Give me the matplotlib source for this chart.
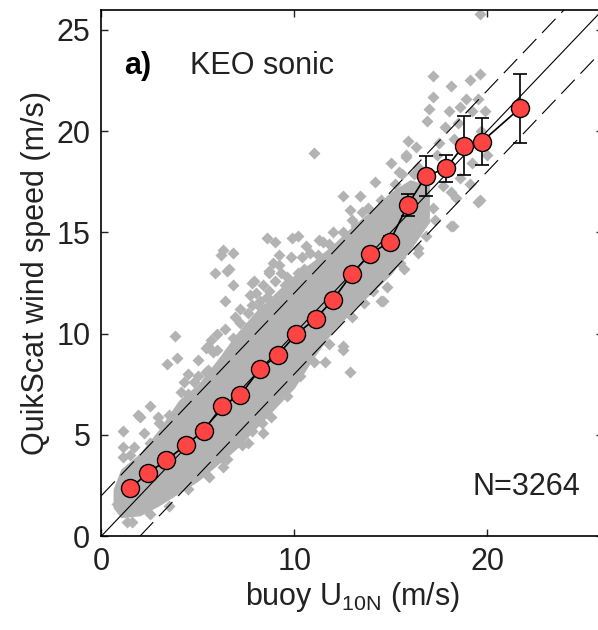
import matplotlib
matplotlib.use("Agg")
import matplotlib.pyplot as plt

plt.rcParams['font.family'] = ['Liberation Sans', 'DejaVu Sans']
plt.rcParams['mathtext.fontset'] = 'custom'
plt.rcParams['mathtext.rm'] = 'Liberation Sans'
plt.rcParams['lines.scale_dashes'] = False

# binned means (red circles) with error bars
bin_x = [1.5, 2.42, 3.35, 4.4, 5.3, 6.25, 7.2, 8.2, 9.13, 10.1, 11.1, 12.0,
         12.99, 13.94, 14.94, 15.87, 16.82, 17.86, 18.77, 19.73, 21.7]
bin_y = [2.37, 3.11, 3.74, 4.51, 5.21, 6.41, 6.96, 8.23, 8.93, 9.97, 10.73, 11.66,
         12.95, 13.94, 14.52, 16.33, 17.78, 18.15, 19.28, 19.48, 21.13]
bin_err = [0.08, 0.06, 0.06, 0.06, 0.07, 0.08, 0.08, 0.1, 0.1, 0.1, 0.12, 0.15,
           0.18, 0.2, 0.3, 0.55, 0.98, 0.66, 1.44, 1.17, 1.7]

# dense core of the scatter cloud (envelope)
core_x = [0.6, 1, 2, 3, 4, 5, 6, 7, 8, 9, 10, 11, 12, 13, 14, 15, 16, 17]
core_lo = [1.4, 0.9, 1.0, 1.5, 2.1, 2.7, 3.5, 4.3, 5.3, 6.3, 7.3, 8.8, 10.1,
           11.1, 12.0, 12.9, 14.1, 15.5]
core_hi = [2.3, 3.3, 4.1, 5.3, 6.7, 7.5, 8.7, 10.0, 11.1, 12.0, 12.9, 13.6, 14.4,
           15.3, 16.1, 17.0, 17.6, 17.3]

# scattered points outside / along the edge of the core
pts_x = [1.1, 1.1, 1.1, 1.7, 2.0, 2.2, 2.5, 1.9, 2.95, 3.4, 3.8, 3.9, 4.1, 5.0,
         5.3, 5.0, 5.4, 5.8, 5.5, 5.4, 6.4,
         5.9, 6.5, 6.8, 6.4, 7.8, 7.7, 8.7, 8.7, 8.2, 7.8,
         6.2, 6.8, 6.6, 6.3, 8.6, 9.0, 9.9, 10.6, 10.2, 9.2, 9.2, 9.8, 9.6, 10.2,
         10.0, 9.4, 7.9, 8.7,
         11.0, 12.5, 13.4, 12.9, 14.2, 15.0, 15.8, 15.9, 15.8, 16.9, 17.0, 17.2,
         17.2, 18.1, 18.0, 19.1, 19.6, 19.5, 19.6, 18.9, 19.2, 19.7, 18.5, 17.5,
         16.4, 16.7, 17.7, 18.6, 18.1, 17.2, 19.1, 19.5, 19.6, 18.4, 18.2, 18.1,
         16.5, 16.0, 11.5, 12.0, 13.0, 13.5,
         6.3, 6.3, 7.8, 8.3, 8.4, 11.6, 12.5, 12.5, 12.9, 12.2, 14.1, 14.5, 14.6,
         15.5, 15.5, 16.4, 16.4, 16.7, 0.8, 1.3,
         1.5, 2.5, 3.0, 3.5, 4.5, 4.8, 5.5, 6.0, 6.8, 7.2, 7.6, 8.2, 8.6, 9.5,
         10.5, 11.2, 11.8, 12.5, 13.2, 13.8, 14.5, 15.2, 15.6, 16.2,
         1.6, 2.5, 3.5, 4.5, 5.6, 6.5, 7.3, 7.6, 8.8, 9.6, 10.3, 11.0, 11.8, 13.0,
         13.6, 14.8, 15.7, 16.8, 17.3,
         17.4, 18.3, 19.2, 20.0, 19.9, 18.6, 17.8, 16.3, 15.4,
         8.0, 8.4, 9.0, 9.3, 8.9, 10.4, 10.8, 11.3, 7.2, 6.9, 6.0, 5.7, 4.5, 4.3]
pts_y = [5.2, 4.4, 3.9, 4.4, 5.9, 5.1, 6.4, 6.0, 5.9, 8.5, 9.9, 8.8, 7.1, 7.9,
         7.1, 8.7, 9.3, 9.1, 9.4, 8.1, 10.2,
         13.0, 13.1, 12.4, 11.6, 12.5, 11.9, 13.0, 12.1, 11.6, 11.4,
         13.9, 14.0, 13.2, 14.1, 14.7, 14.5, 14.7, 14.3, 14.8, 13.9, 13.4, 13.8,
         12.8, 13.0, 12.4, 11.9, 12.6, 13.1,
         18.9, 16.8, 16.8, 16.1, 17.5, 18.4, 18.7, 19.5, 18.8, 20.5, 21.1, 21.7,
         22.7, 22.2, 21.0, 22.5, 22.8, 21.6, 25.8, 21.6, 21.0, 20.0, 20.4, 19.4,
         18.2, 17.3, 17.3, 17.7, 17.0, 16.2, 17.4, 16.5, 16.6, 16.7, 15.3, 15.3,
         15.3, 14.8, 14.5, 15.0, 15.6, 16.0,
         3.8, 3.4, 5.2, 5.6, 5.1, 8.6, 9.2, 9.4, 8.1, 10.6, 12.1, 11.6, 11.6,
         13.5, 13.8, 14.0, 14.2, 15.5, 1.6, 0.7,
         4.0, 4.6, 5.6, 6.0, 7.0, 7.6, 8.2, 9.2, 9.8, 10.5, 11.0, 11.3, 11.8, 12.4,
         13.2, 13.9, 14.4, 15.0, 15.3, 16.2, 16.6, 17.4, 17.9, 17.9,
         0.7, 1.1, 1.5, 2.3, 2.9, 3.8, 4.5, 4.6, 5.9, 6.9, 7.9, 8.6, 9.5, 10.8,
         11.5, 12.3, 13.2, 14.8, 15.6,
         18.8, 19.6, 18.4, 18.8, 21.0, 21.2, 20.2, 19.2, 18.0,
         12.0, 12.4, 12.6, 13.0, 13.5, 13.8, 14.0, 14.6, 11.2, 10.8, 10.0, 9.7,
         8.0, 7.6]

grey = '#b3b3b3'

fig = plt.figure(figsize=(5.98, 6.30), dpi=100)
ax = fig.add_axes([0.1697, 0.1492, 0.8386, 0.8357])

ax.fill_between(core_x, core_lo, core_hi, color=grey, lw=0, zorder=1)
ax.plot(pts_x, pts_y, 'D', color=grey, ms=6, mec='none', zorder=1)

ax.plot([0, 26], [0, 26], color='k', lw=0.8, zorder=2)
for off in (-2, 2):
    ax.plot([0, 26], [off, 26 + off], color='k', lw=0.8, dashes=(14, 6), zorder=2)

ax.errorbar(bin_x, bin_y, yerr=bin_err, fmt='none', ecolor='k', elinewidth=1.2,
            capsize=5, capthick=1.2, zorder=3)
ax.plot(bin_x, bin_y, '-', color='k', lw=1.2, zorder=3)
ax.plot(bin_x, bin_y, 'o', ms=13, mfc='#ff4444', mec='k', mew=1, zorder=4)

ax.set_xlim(0, 26)
ax.set_ylim(0, 26)
ax.set_xticks([0, 10, 20])
ax.set_yticks([0, 5, 10, 15, 20, 25])
ax.tick_params(direction='in', length=5, width=1, top=True, right=True,
               labelsize=22, pad=8, colors='#222222')
for s in ax.spines.values():
    s.set_linewidth(1.2)

ax.set_xlabel('buoy U$_{\\mathrm{10N}}$ (m/s)', fontsize=22, labelpad=2,
              color='#222222')
ax.set_ylabel('QuikScat wind speed (m/s)', fontsize=22, labelpad=4,
              color='#222222')

ax.text(1.15, 23.2, 'a)', fontsize=22, fontweight='bold', va='center')
ax.text(4.6, 23.2, 'KEO sonic', fontsize=22, va='center', color='#222222')
ax.text(24.8, 2.4, 'N=3264', fontsize=22, va='center', ha='right',
        color='#222222')

fig.savefig('out.png', dpi=100)
